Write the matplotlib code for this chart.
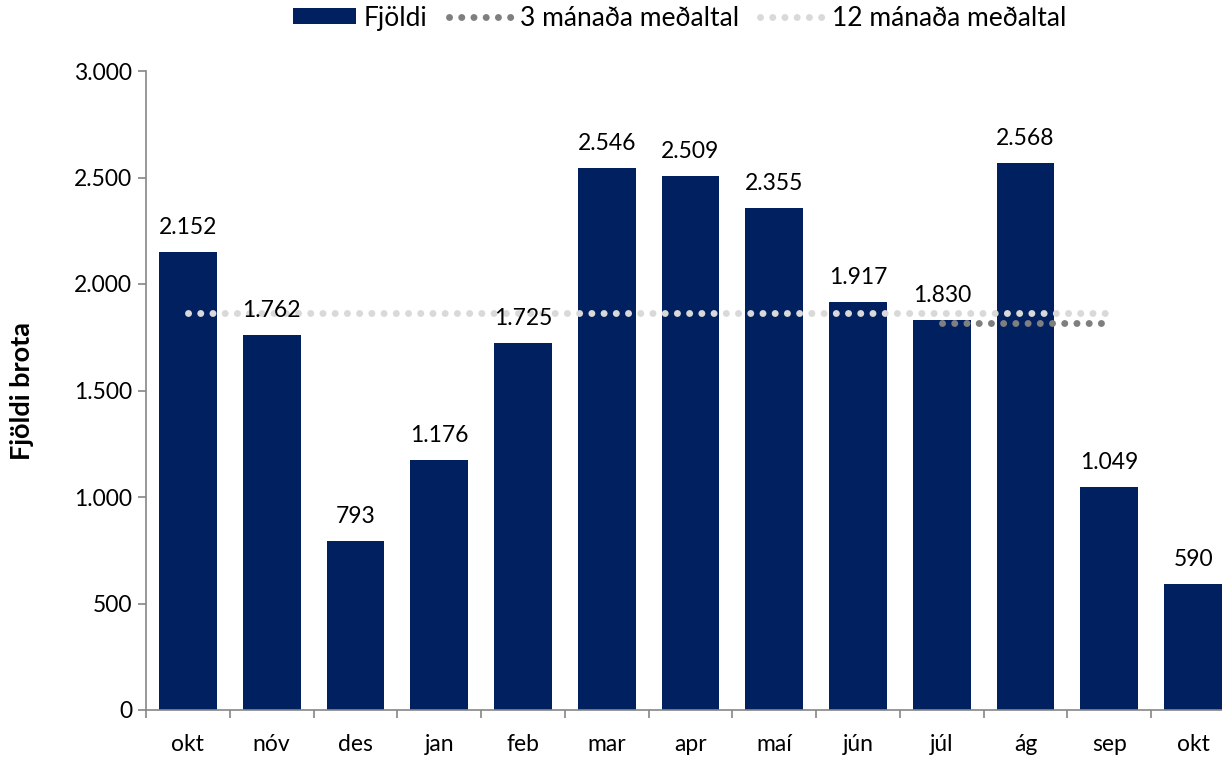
import numpy as np
import matplotlib.pyplot as plt
from matplotlib.ticker import FuncFormatter, FixedLocator

# Data
months = ['okt', 'nóv', 'des', 'jan', 'feb', 'mar', 'apr', 'maí', 'jún', 'júl', 'ág', 'sep', 'okt']
counts = [2152, 1762, 793, 1176, 1725, 2546, 2509, 2355, 1917, 1830, 2568, 1049, 590]
avg3 = [np.nan] * 9 + [1816, 1816, 1816, np.nan]
avg12 = [1865] * 12 + [np.nan]

navy = '#002060'
axis_grey = '#868686'
plt.rcParams['font.family'] = ['Lato', 'DejaVu Sans']

fig = plt.figure(figsize=(12.22, 7.57), dpi=100)
ax = fig.add_axes([146 / 1222, 47 / 757, 1089 / 1222, 639 / 757])

x = np.arange(len(months))
ax.bar(x, counts, width=0.69, color=navy, label='Fjöldi', zorder=2)

dot_kw = dict(linestyle=(0, (0.01, 1.75)), linewidth=5.0, dash_capstyle='round',
              solid_capstyle='round', zorder=3)
ax.plot(x, avg3, color='#7f7f7f', label='3 mánaða meðaltal', **dot_kw)
ax.plot(x, avg12, color='#d9d9d9', label='12 mánaða meðaltal', **dot_kw)

# data labels
for xi, v in zip(x, counts):
    ax.annotate(f'{v:,}'.replace(',', '.'), (xi, v), xytext=(0, 10),
                textcoords='offset points', ha='center', va='bottom',
                fontsize=16.5, zorder=4)

ax.set_xlim(-0.5, len(months) - 0.5)
ax.set_ylim(0, 3000)
ax.set_yticks(np.arange(0, 3001, 500))
ax.yaxis.set_major_formatter(FuncFormatter(lambda v, p: f'{int(v):,}'.replace(',', '.')))

ax.set_xticks(x)
ax.set_xticklabels(months)
ax.xaxis.set_minor_locator(FixedLocator(np.arange(-0.5, len(months), 1)))
ax.tick_params(axis='x', which='major', length=0, pad=17, labelsize=16.5)
ax.tick_params(axis='x', which='minor', length=6, color=axis_grey, width=1.2)
ax.tick_params(axis='y', length=6, color=axis_grey, width=1.2, labelsize=16.5, pad=4)

for s in ['top', 'right']:
    ax.spines[s].set_visible(False)
for s in ['left', 'bottom']:
    ax.spines[s].set_color(axis_grey)
    ax.spines[s].set_linewidth(1.2)

ax.set_ylabel('Fjöldi brota', fontsize=19.5, fontweight='bold', labelpad=29)

handles, labels = ax.get_legend_handles_labels()
order = [2, 0, 1]
fig.legend([handles[i] for i in order], [labels[i] for i in order],
           loc='center', bbox_to_anchor=(0.556, 0.976), ncol=3, frameon=False,
           fontsize=19, handlelength=2.4, handleheight=0.55,
           columnspacing=0.8, handletextpad=0.3)

fig.savefig('out.png', dpi=100)
